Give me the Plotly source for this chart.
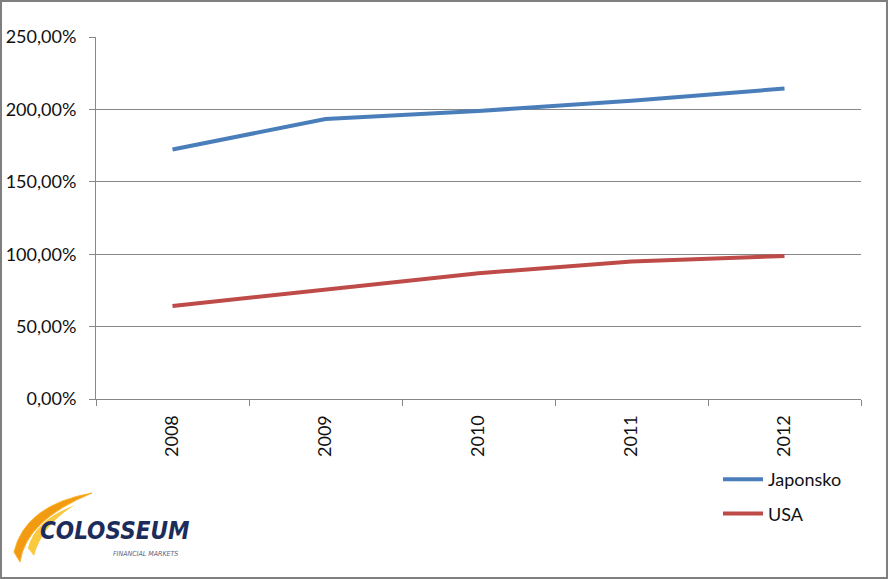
import plotly.graph_objects as go

years = ["2008", "2009", "2010", "2011", "2012"]
japonsko = [172.3, 193.4, 198.9, 206.0, 214.4]
usa = [64.2, 75.5, 86.8, 95.0, 98.8]
y_tickvals = [0, 50, 100, 150, 200, 250]
y_ticktext = ["0,00%", "50,00%", "100,00%", "150,00%", "200,00%", "250,00%"]

W, H = 888, 579
L, R, T, B = 96, 27, 37, 180
pw, ph = W - L - R, H - T - B

def px(x):
    return (x - L) / pw

def py(y):
    return (H - B - y) / ph

FONT = "Lato, Calibri, Carlito, sans-serif"
GRID = "#878787"

fig = go.Figure()
fig.add_trace(go.Scatter(x=years, y=japonsko, mode="lines", name="Japonsko",
                         line=dict(color="#4A7EBB", width=4), legendgroup="a"))
fig.add_trace(go.Scatter(x=years, y=usa, mode="lines", name="USA",
                         line=dict(color="#BE4B48", width=4), legendgroup="b"))

fig.update_layout(
    width=W, height=H,
    margin=dict(l=L, r=R, t=T, b=B, autoexpand=False),
    paper_bgcolor="white", plot_bgcolor="white",
    font=dict(family=FONT, size=18, color="#111111"),
    showlegend=True,
    legend=dict(x=px(718), y=py(461), xanchor="left", yanchor="top",
                font=dict(size=18), tracegroupgap=8, itemwidth=40,
                bgcolor="rgba(0,0,0,0)"),
    xaxis=dict(type="category", tickson="boundaries", ticks="outside", ticklen=6,
               range=[-0.5, len(years) - 0.5], automargin=False,
               tickcolor=GRID, showline=True, linecolor=GRID, linewidth=1,
               showgrid=False, tickangle=-90, fixedrange=True,
               ticklabelstandoff=8),
    yaxis=dict(range=[0, 250], tickvals=y_tickvals, ticktext=y_ticktext,
               ticks="outside", ticklen=6, tickcolor=GRID, showline=True,
               linecolor=GRID, linewidth=1, showgrid=True, gridcolor=GRID,
               gridwidth=1, zeroline=False, fixedrange=True, automargin=False,
               ticklabelstandoff=9),
)

# outer border of the chart
fig.add_shape(type="rect", xref="paper", yref="paper",
              x0=px(1), x1=px(887), y0=py(578), y1=py(1),
              line=dict(color="#7F7F7F", width=2), layer="above")

# logo swoosh
def pt(x, y):
    return f"{px(x):.4f},{py(y):.4f}"

swoosh = (f"M {pt(92,493)} Q {pt(25,505)} {pt(14,552)} "
          f"L {pt(20,562)} Q {pt(26,520)} {pt(92,493)} Z")
fig.add_shape(type="path", xref="paper", yref="paper", path=swoosh,
              fillcolor="#F29A11", line=dict(color="#F7B42C", width=1))
swoosh2 = (f"M {pt(75,505)} Q {pt(35,520)} {pt(28,548)} "
           f"L {pt(34,556)} Q {pt(42,525)} {pt(75,505)} Z")
fig.add_shape(type="path", xref="paper", yref="paper", path=swoosh2,
              fillcolor="#FBC93D", line=dict(width=0))

fig.add_annotation(xref="paper", yref="paper", x=px(115), y=py(531),
                   xanchor="center", yanchor="middle",
                   text="<b><i>COLOSSEUM</i></b>", showarrow=False,
                   font=dict(family="DejaVu Sans Condensed, Liberation Sans Narrow, sans-serif",
                             size=24, color="#1C2C5B"))
fig.add_annotation(xref="paper", yref="paper", x=px(145), y=py(554),
                   xanchor="center", yanchor="middle",
                   text="<i>FINANCIAL MARKETS</i>", showarrow=False,
                   font=dict(family="DejaVu Sans Condensed, sans-serif",
                             size=7, color="#5A6580"))

fig.write_html("out.html")
